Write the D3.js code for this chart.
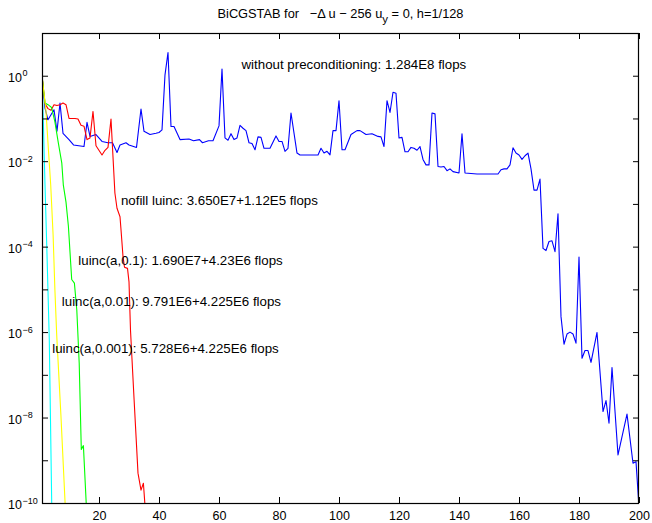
<!DOCTYPE html>
<html>
<head>
<meta charset="utf-8">
<script src="https://cdn.jsdelivr.net/npm/d3@7"></script>
<style>
  body { margin: 0; background: #fff; }
  text { font-family: "Liberation Sans", Arial, Helvetica, sans-serif; fill: #000; }
</style>
</head>
<body>
<svg id="chart" width="652" height="523"></svg>
<script>
// Iteration tick marks along the horizontal axis
const iterTicks = [20, 40, 60, 80, 100, 120, 140, 160, 180, 200];
// Decades of the residual axis; only the even ones carry a label
const decadeExps = [1, 0, -1, -2, -3, -4, -5, -6, -7, -8, -9, -10];
const labeledExps = [0, -2, -4, -6, -8, -10];

// BiCGSTAB without preconditioning: relative residual per iteration
const plainIter = [1, 2, 3, 4, 5, 6, 7, 8, 10, 11.5, 15, 16, 17, 19, 21, 23, 24.5, 26, 27, 29,
  30, 32.5, 34, 35, 37, 39, 40, 41, 42, 43, 44, 45, 47, 50, 51.5, 53.5, 54.5, 56.5, 58, 60,
  61, 62, 63, 64, 65, 66, 67, 68, 69, 70, 71, 72, 73, 74, 75, 77, 79, 80, 81, 82,
  83, 84, 86, 87, 93, 94, 95, 96, 97, 98, 99, 100, 101, 102, 104, 106, 107, 109, 111, 113,
  114, 115, 116, 117, 118, 119, 120, 121, 122, 123, 124, 125, 126, 127, 128, 129, 130, 131, 132, 133,
  134, 135, 136, 137, 138, 140, 141, 142, 146, 153, 154, 155, 156, 157, 158, 159, 160, 161, 162, 163,
  164, 165, 166, 167, 168, 169, 170, 171, 172, 173, 174, 175, 176, 177, 178, 179, 180, 181, 182, 183,
  184, 186, 188, 189, 190, 191, 193, 196, 198, 199, 200];
const plainRes = [1, 0.175, 0.093, 0.122, 0.16, 0.050, 0.23, 0.045, 0.032, 0.024, 0.022, 0.081, 0.038, 0.042, 0.029, 0.027, 0.027, 0.016, 0.024, 0.027,
  0.024, 0.021, 0.166, 0.050, 0.042, 0.045, 0.047, 0.054, 1.05, 3.5, 0.065, 0.065, 0.032, 0.033, 0.030, 0.032, 0.027, 0.030, 0.030, 0.067,
  1.44, 0.035, 0.031, 0.044, 0.032, 0.035, 0.069, 0.059, 0.052, 0.027, 0.026, 0.0185, 0.037, 0.036, 0.020, 0.020, 0.039, 0.029, 0.029, 0.017,
  0.020, 0.134, 0.0155, 0.014, 0.014, 0.020, 0.0155, 0.017, 0.014, 0.052, 0.052, 0.26, 0.0185, 0.0185, 0.042, 0.052, 0.052, 0.042, 0.044, 0.038,
  0.037, 0.022, 0.26, 0.138, 0.41, 0.39, 0.035, 0.036, 0.0166, 0.0166, 0.021, 0.020, 0.018, 0.022, 0.011, 0.0082, 0.0082, 0.134, 0.128, 0.0075,
  0.0073, 0.0075, 0.006, 0.0066, 0.0057, 0.0053, 0.044, 0.0053, 0.005, 0.005, 0.0063, 0.0066, 0.0066, 0.0082, 0.0206, 0.0155, 0.014, 0.011, 0.0134, 0.0155,
  0.0066, 0.0021, 0.0021, 0.0038, 9.1e-5, 8.1e-5, 1.32e-4, 1.37e-4, 7.6e-5, 5.9e-4, 2.3e-6, 5.2e-7, 9e-7, 1e-6, 9e-7, 5.5e-7, 5.7e-5, 2.45e-7, 3.7e-7, 3.7e-7,
  1.96e-7, 9.8e-7, 1.38e-8, 2.5e-8, 7.4e-9, 1.48e-7, 1.33e-9, 1.2e-8, 8.5e-10, 9.3e-10, 8e-11];

// nofill luinc preconditioner
const nofillIter = [1, 2, 3, 4, 5, 6, 7, 8, 9, 10, 12, 13, 14, 15, 16, 17, 18, 19, 21, 22,
  23, 24, 25.3, 26, 27, 27.3, 28, 28.5, 29.5, 30, 30.5, 31.7, 33, 34, 34.8, 35.5];
const nofillRes = [1, 0.22, 0.17, 0.155, 0.21, 0.20, 0.21, 0.23, 0.21, 0.10, 0.10, 0.097, 0.069, 0.066, 0.032, 0.035, 0.146, 0.023, 0.014, 0.018,
  0.021, 0.097, 1.8e-3, 7.9e-4, 5.0e-4, 2.7e-4, 5.9e-5, 3.3e-5, 3.1e-5, 1.5e-5, 1.1e-6, 2.6e-8, 5e-10, 2e-10, 2.9e-10, 6e-11];

// luinc(a,0.1)
const luinc1Iter = [1, 2, 3, 4.2, 5.3, 6.4, 7.6, 8.1, 9, 9.8, 10.9, 11.8, 12.6, 13.4, 14.1, 14.8, 15.8];
const luinc1Res = [1, 0.23, 0.21, 0.18, 0.083, 0.028, 0.009, 2.8e-3, 1.1e-3, 3e-4, 1.7e-5, 1.4e-5, 3.3e-6, 1.9e-7, 1.8e-9, 2.2e-9, 8e-11];

// luinc(a,0.01)
const luinc2Iter = [1, 2.3, 3.2, 3.9, 4.7, 5.3, 5.9, 7.3, 8.7];
const luinc2Res = [1, 0.16, 0.016, 2.8e-3, 1.9e-4, 9.8e-6, 8.6e-7, 1.15e-8, 1e-10];

// luinc(a,0.001)
const luinc3Iter = [1, 1.43, 2, 2.67, 3.43, 3.83, 4.25];
const luinc3Res = [1, 0.093, 2.8e-3, 6.5e-5, 6.6e-7, 8.7e-9, 9e-11];

const seriesNames = ["plain", "nofill", "luinc1", "luinc2", "luinc3"];
const seriesColors = ["#0000ff", "#ff0000", "#00ff00", "#ffff00", "#00ffff"];
const seriesIter = [plainIter, nofillIter, luinc1Iter, luinc2Iter, luinc3Iter];
const seriesRes = [plainRes, nofillRes, luinc1Res, luinc2Res, luinc3Res];

// Cost annotations, anchored at (iteration, residual)
const noteText = [
  "without preconditioning: 1.284E8 flops",
  "nofill luinc: 3.650E7+1.12E5 flops",
  "luinc(a,0.1): 1.690E7+4.23E6 flops",
  "luinc(a,0.01): 9.791E6+4.225E6 flops",
  "luinc(a,0.001): 5.728E6+4.225E6 flops"
];
const noteIter = [67.5, 27.3, 13.1, 7.6, 4.4];
const noteRes = [1.4, 9.5e-4, 3.7e-5, 4e-6, 3.2e-7];

const W = 652, H = 523;
const plot = { left: 42, right: 639, top: 33, bottom: 503 };

const svg = d3.select("#chart");

const x = d3.scaleLinear().domain([1, 200]).range([plot.left, plot.right]);
const y = d3.scaleLog().domain([1e-10, 1e1]).range([plot.bottom, plot.top]);

svg.append("defs").append("clipPath").attr("id", "plotClip")
  .append("rect")
  .attr("x", plot.left).attr("y", plot.top)
  .attr("width", plot.right - plot.left).attr("height", plot.bottom - plot.top);

// Residual curves
const line = d3.line()
  .x(d => x(d[0]))
  .y(d => y(d[1]));

const curves = svg.append("g").attr("clip-path", "url(#plotClip)");
seriesNames.forEach((name, k) => {
  const pts = seriesIter[k].map((it, j) => [it, seriesRes[k][j]]);
  curves.append("path")
    .attr("class", "curve " + name)
    .attr("d", line(pts))
    .attr("fill", "none")
    .attr("stroke", seriesColors[k])
    .attr("stroke-width", 1.1)
    .attr("stroke-linejoin", "round");
});

// Axes: ticks pointing inward on all four sides
const tickLen = 6;
const decadeVals = decadeExps.map(e => Math.pow(10, e));

const gBottom = svg.append("g").attr("transform", `translate(0,${plot.bottom})`)
  .call(d3.axisBottom(x).tickValues(iterTicks).tickSize(-tickLen).tickPadding(8.5).tickFormat(d3.format("d")));
const gTop = svg.append("g").attr("transform", `translate(0,${plot.top})`)
  .call(d3.axisTop(x).tickValues(iterTicks).tickSize(-tickLen).tickFormat(""));
const gLeft = svg.append("g").attr("transform", `translate(${plot.left},0)`)
  .call(d3.axisLeft(y).tickValues(decadeVals).tickSize(-tickLen).tickFormat(""));
const gRight = svg.append("g").attr("transform", `translate(${plot.right},0)`)
  .call(d3.axisRight(y).tickValues(decadeVals).tickSize(-tickLen).tickFormat(""));

[gBottom, gTop, gLeft, gRight].forEach(g => {
  g.select(".domain").remove();
  g.selectAll(".tick line").attr("stroke", "#000").attr("stroke-width", 1);
});
gBottom.selectAll(".tick text")
  .attr("font-size", 12.5)
  .attr("font-family", "Liberation Sans, Arial, sans-serif")
  .attr("fill", "#000");

// Power-of-ten labels on the residual axis
const yLab = svg.append("g").attr("class", "ylabels");
labeledExps.forEach(e => {
  const ty = y(Math.pow(10, e));
  yLab.append("text")
    .attr("x", 22).attr("y", ty + 6)
    .attr("text-anchor", "end")
    .attr("font-size", 12.5)
    .text("10");
  yLab.append("text")
    .attr("x", 22.5).attr("y", ty + 0.5)
    .attr("font-size", 9)
    .text(e === 0 ? "0" : "\u2212" + Math.abs(e));
});

// Frame
svg.append("rect")
  .attr("x", plot.left + 0.5).attr("y", plot.top + 0.5)
  .attr("width", plot.right - plot.left - 1).attr("height", plot.bottom - plot.top)
  .attr("fill", "none").attr("stroke", "#000").attr("stroke-width", 1.2);

// Title
const title = svg.append("text")
  .attr("x", (plot.left + plot.right) / 2).attr("y", 18)
  .attr("text-anchor", "middle")
  .attr("font-size", 12.8)
  .attr("xml:space", "preserve");
title.append("tspan").text("BiCGSTAB for   \u2212\u0394 u \u2212 256 u");
title.append("tspan").attr("dy", 5).attr("font-size", 11.5).text("y");
title.append("tspan").attr("dy", -5).text(" = 0, h=1/128");

// Cost annotations
svg.append("g").selectAll("text")
  .data(noteText)
  .join("text")
  .attr("x", (d, i) => x(noteIter[i]))
  .attr("y", (d, i) => y(noteRes[i]))
  .attr("font-size", 13.3)
  .text(d => d);
</script>
</body>
</html>
